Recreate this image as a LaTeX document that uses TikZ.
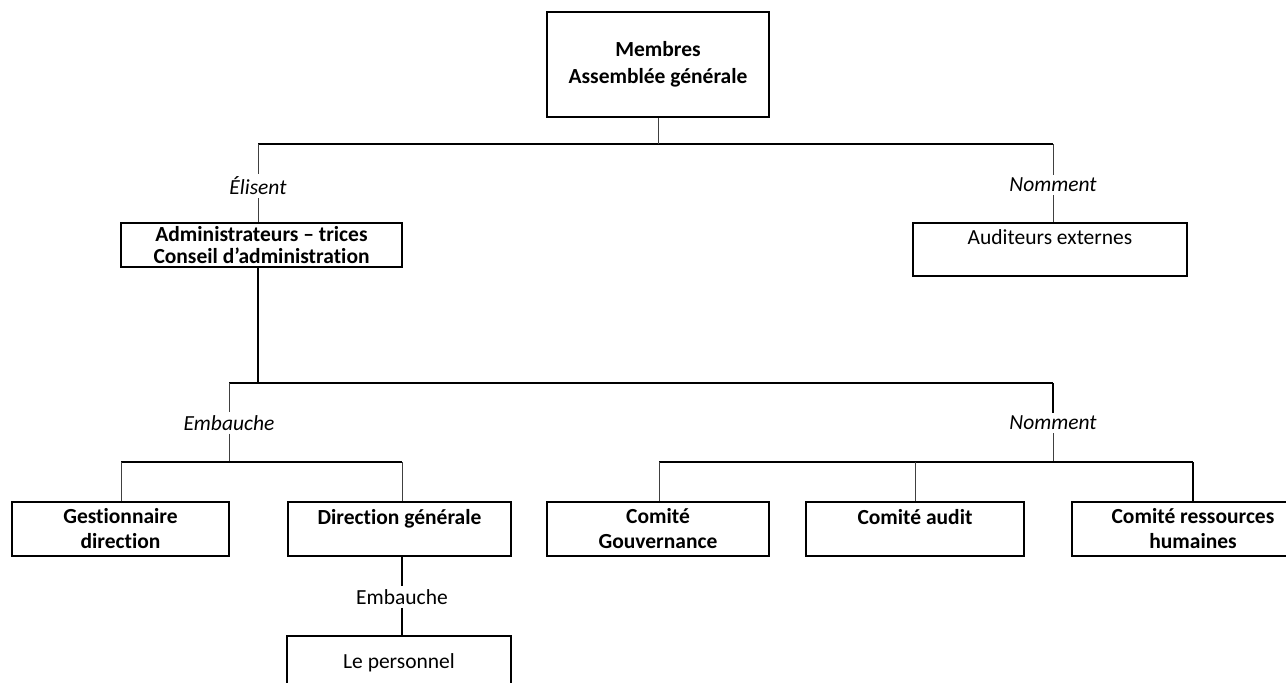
\documentclass[tikz,border=0pt]{standalone}
\usepackage{fontspec}
\setmainfont{Carlito}[Ligatures=NoCommon]
\usepackage{tikz}
\usetikzlibrary{positioning}

\tikzset{
  orgbox/.style={draw, line width=1.3pt, minimum height=54pt, inner sep=0pt,
    align=center, font=\fontsize{21.5}{25}\selectfont\bfseries},
  plainbox/.style={orgbox, font=\fontsize{21.5}{25}\selectfont},
  verb/.style={fill=white, inner sep=3pt, font=\fontsize{21.5}{25}\selectfont\itshape},
  link/.style={line width=1pt, black!75},
  bar/.style={line width=1.4pt}
}

\begin{document}
\begin{tikzpicture}[x=1pt, y=-1pt]
  \useasboundingbox (0,0) rectangle (1286,683);
  \clip (0,0) rectangle (1286,683);
  % boxes
  \node (mem) at (658,64.5) [orgbox, minimum width=222pt, minimum height=105pt, font=\fontsize{21.5}{27}\selectfont\bfseries] {Membres\\Assemblée générale};
  \node (admin) at (261.5,245) [orgbox, minimum width=281pt, minimum height=44pt, font=\fontsize{21.5}{22}\selectfont\bfseries] {Administrateurs – trices\\Conseil d’administration};
  \node (aud) at (1050,249.5) [plainbox, minimum width=274pt, minimum height=53pt] {Auditeurs externes\\\mbox{}};
  \node (gest) at (120.5,529) [orgbox, minimum width=217pt] {Gestionnaire\\direction};
  \node (dir) at (399.5,529) [orgbox, minimum width=223pt] {Direction générale\\\mbox{}};
  \node (gouv) at (658,529) [orgbox, minimum width=222pt] {Comité\\Gouvernance};
  \node (audit) at (915,529) [orgbox, minimum width=218pt] {Comité audit\\\mbox{}};
  \node (rh) at (1193,529) [orgbox, minimum width=242pt] {Comité ressources\\humaines};
  \node (pers) at (399,663) [plainbox, minimum width=224pt] {Le personnel};
  % labels
  \node (elis) at (258,186) [verb] {Élisent};
  \node (nomA) at (1053,185) [verb] {Nomment};
  \node (embA) at (229,423) [verb] {Embauche};
  \node (nomB) at (1053,423) [verb] {Nomment};
  \node (embB) at (402,597) [verb, font=\fontsize{21.5}{25}\selectfont] {Embauche};
  % first level
  \coordinate (topL) at (258,144);
  \coordinate (topR) at (1053,144);
  \draw [bar] (topL) -- (topR);
  \draw [link] (mem) -- (mem |- topL);
  \draw [link] (topL) -- (elis) -- (elis |- admin.north);
  \draw [link] (topR) -- (nomA) -- (nomA |- aud.north);
  % second level
  \coordinate (midL) at (229,383);
  \coordinate (midR) at (1053,383);
  \draw [bar] (midL) -- (midR);
  \draw [bar] (admin.south -| topL) -- (topL |- midL);
  \draw [link] (midL) -- (embA) -- (embA |- 0,462);
  \draw [bar] (midR) -- (nomB);
  \draw [link] (nomB) -- (nomB |- 0,462);
  % third level
  \coordinate (lowL) at (121,462);
  \coordinate (lowR) at (402,462);
  \draw [bar] (lowL) -- (lowR);
  \draw [link] (lowL) -- (lowL |- gest.north);
  \draw [link] (lowR) -- (lowR |- dir.north);
  \draw [bar] (dir.south -| lowR) -- (embB) -- (embB |- pers.north);
  \coordinate (comL) at (659,462);
  \coordinate (comR) at (1193,462);
  \draw [bar] (comL) -- (comR);
  \draw [link] (comL) -- (comL |- gouv.north);
  \draw [link] (audit.north |- comL) -- (audit.north);
  \draw [bar] (comR) -- (rh.north);
\end{tikzpicture}
\end{document}
